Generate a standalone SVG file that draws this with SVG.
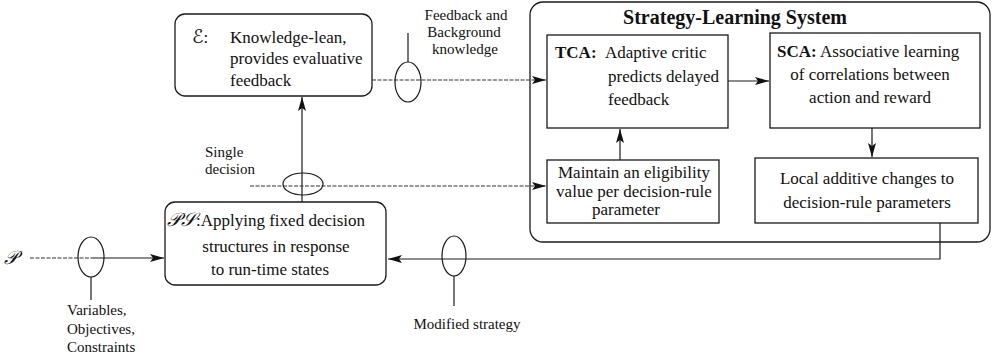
<svg xmlns="http://www.w3.org/2000/svg" width="994" height="358" viewBox="0 0 994 358">
  <style>
    .box { fill: none; stroke: #1a1a1a; stroke-width: 1.3; }
    .txt { font-family: "Liberation Serif", "Times New Roman", serif; font-size: 17px; fill: #111; }
    .lbl { font-family: "Liberation Serif", "Times New Roman", serif; font-size: 15px; fill: #111; }
    .ttl { font-family: "Liberation Serif", "Times New Roman", serif; font-size: 20px; font-weight: bold; fill: #111; }
    .b { font-weight: bold; }
    .scr { font-family: "DejaVu Serif", "DejaVu Sans", "Noto Sans", serif; font-style: italic; font-size: 19px; }
    .wire { fill: none; stroke: #1a1a1a; stroke-width: 1.2; }
    .dash { fill: none; stroke: #333; stroke-width: 1.1; stroke-dasharray: 4 1.5; }
    .tap { fill: none; stroke: #1a1a1a; stroke-width: 1.2; }
  </style>
  <defs>
    <marker id="arr" viewBox="0 0 14 8" refX="14" refY="4" markerWidth="14" markerHeight="8" markerUnits="userSpaceOnUse" orient="auto">
      <path d="M0,0 L14,4 L0,8 L3,4 z" fill="#111"/>
    </marker>
  </defs>

  <!-- Strategy-Learning System container -->
  <g id="sls">
    <rect class="box" x="530" y="2" width="460" height="240" rx="13" ry="13"/>
    <text class="ttl" x="735" y="24" text-anchor="middle">Strategy-Learning System</text>
  </g>

  <!-- Environment -->
  <g id="env">
    <rect class="box" x="175" y="14" width="197" height="82" rx="10" ry="10"/>
    <text class="txt" x="192" y="43"><tspan class="scr">ℰ</tspan>:</text>
    <text class="txt" x="230" y="43">Knowledge-lean,</text>
    <text class="txt" x="230" y="64">provides evaluative</text>
    <text class="txt" x="230" y="86">feedback</text>
  </g>

  <!-- Performance system -->
  <g id="ps">
    <rect class="box" x="165" y="202" width="221" height="83" rx="10" ry="10"/>
    <text class="txt" x="167" y="226"><tspan class="scr">𝒫𝒮</tspan>:Applying fixed decision</text>
    <text class="txt" x="276" y="252" text-anchor="middle">structures in response</text>
    <text class="txt" x="270" y="275" text-anchor="middle">to run-time states</text>
  </g>

  <!-- Temporal credit assignment -->
  <g id="tca">
    <rect class="box" x="547" y="35" width="181" height="93"/>
    <text class="txt" x="555" y="58"><tspan class="b">TCA:</tspan></text>
    <text class="txt" x="605" y="58">Adaptive critic</text>
    <text class="txt" x="608" y="82">predicts delayed</text>
    <text class="txt" x="608" y="105">feedback</text>
  </g>

  <!-- Structural credit assignment -->
  <g id="sca">
    <rect class="box" x="770" y="33" width="210" height="95"/>
    <text class="txt" x="777" y="57"><tspan class="b">SCA:</tspan></text>
    <text class="txt" x="820" y="57">Associative learning</text>
    <text class="txt" x="870" y="80" text-anchor="middle">of correlations between</text>
    <text class="txt" x="870" y="103" text-anchor="middle">action and reward</text>
  </g>

  <!-- Eligibility traces -->
  <g id="elig">
    <rect class="box" x="547" y="160" width="172" height="63"/>
    <text class="txt" x="634" y="178" text-anchor="middle">Maintain an eligibility</text>
    <text class="txt" x="634" y="197" text-anchor="middle">value per decision-rule</text>
    <text class="txt" x="626" y="215" text-anchor="middle">parameter</text>
  </g>

  <!-- Parameter updates -->
  <g id="upd">
    <rect class="box" x="755" y="158" width="223" height="65"/>
    <text class="txt" x="867" y="184" text-anchor="middle">Local additive changes to</text>
    <text class="txt" x="867" y="208" text-anchor="middle">decision-rule parameters</text>
  </g>

  <!-- Connectors -->
  <g id="connectors">
    <!-- problem input to PS -->
    <text class="txt" x="4" y="264"><tspan class="scr">𝒫</tspan></text>
    <line class="dash" x1="30" y1="258" x2="91" y2="258"/>
    <line class="wire" x1="91" y1="258" x2="164" y2="258" marker-end="url(#arr)"/>
    <ellipse class="tap" cx="91" cy="257" rx="13" ry="20"/>
    <line class="tap" x1="91" y1="277" x2="91" y2="300"/>
    <text class="lbl" x="67" y="315">Variables,</text>
    <text class="lbl" x="67" y="334">Objectives,</text>
    <text class="lbl" x="67" y="352">Constraints</text>

    <!-- PS to environment -->
    <line class="wire" x1="302" y1="202" x2="302" y2="97" stroke-width="1.6" marker-end="url(#arr)"/>

    <!-- single decision to eligibility -->
    <line class="dash" x1="250" y1="186" x2="546" y2="186" marker-end="url(#arr)"/>
    <ellipse class="tap" cx="303" cy="184" rx="20" ry="11"/>
    <text class="lbl" x="205" y="157" font-size="14.5">Single</text>
    <text class="lbl" x="205" y="174" font-size="14.5">decision</text>

    <!-- environment feedback to TCA -->
    <line class="dash" x1="372" y1="80" x2="546" y2="80" marker-end="url(#arr)"/>
    <ellipse class="tap" cx="408" cy="82" rx="13" ry="20"/>
    <line class="tap" x1="408" y1="33" x2="408" y2="62"/>
    <text class="lbl" x="466" y="20" text-anchor="middle">Feedback and</text>
    <text class="lbl" x="464" y="37" text-anchor="middle">Background</text>
    <text class="lbl" x="465" y="54" text-anchor="middle">knowledge</text>

    <!-- internal flow -->
    <line class="wire" x1="728" y1="81" x2="769" y2="81" marker-end="url(#arr)"/>
    <line class="wire" x1="620" y1="160" x2="620" y2="129" marker-end="url(#arr)"/>
    <line class="wire" x1="872" y1="128" x2="872" y2="157" marker-end="url(#arr)"/>

    <!-- modified strategy back to PS -->
    <path class="wire" d="M940,223 V259 H388" marker-end="url(#arr)"/>
    <ellipse class="tap" cx="454" cy="256" rx="12" ry="20"/>
    <line class="tap" x1="454" y1="276" x2="454" y2="306"/>
    <text class="lbl" x="467" y="329" text-anchor="middle" font-size="16">Modified strategy</text>
  </g>
</svg>
